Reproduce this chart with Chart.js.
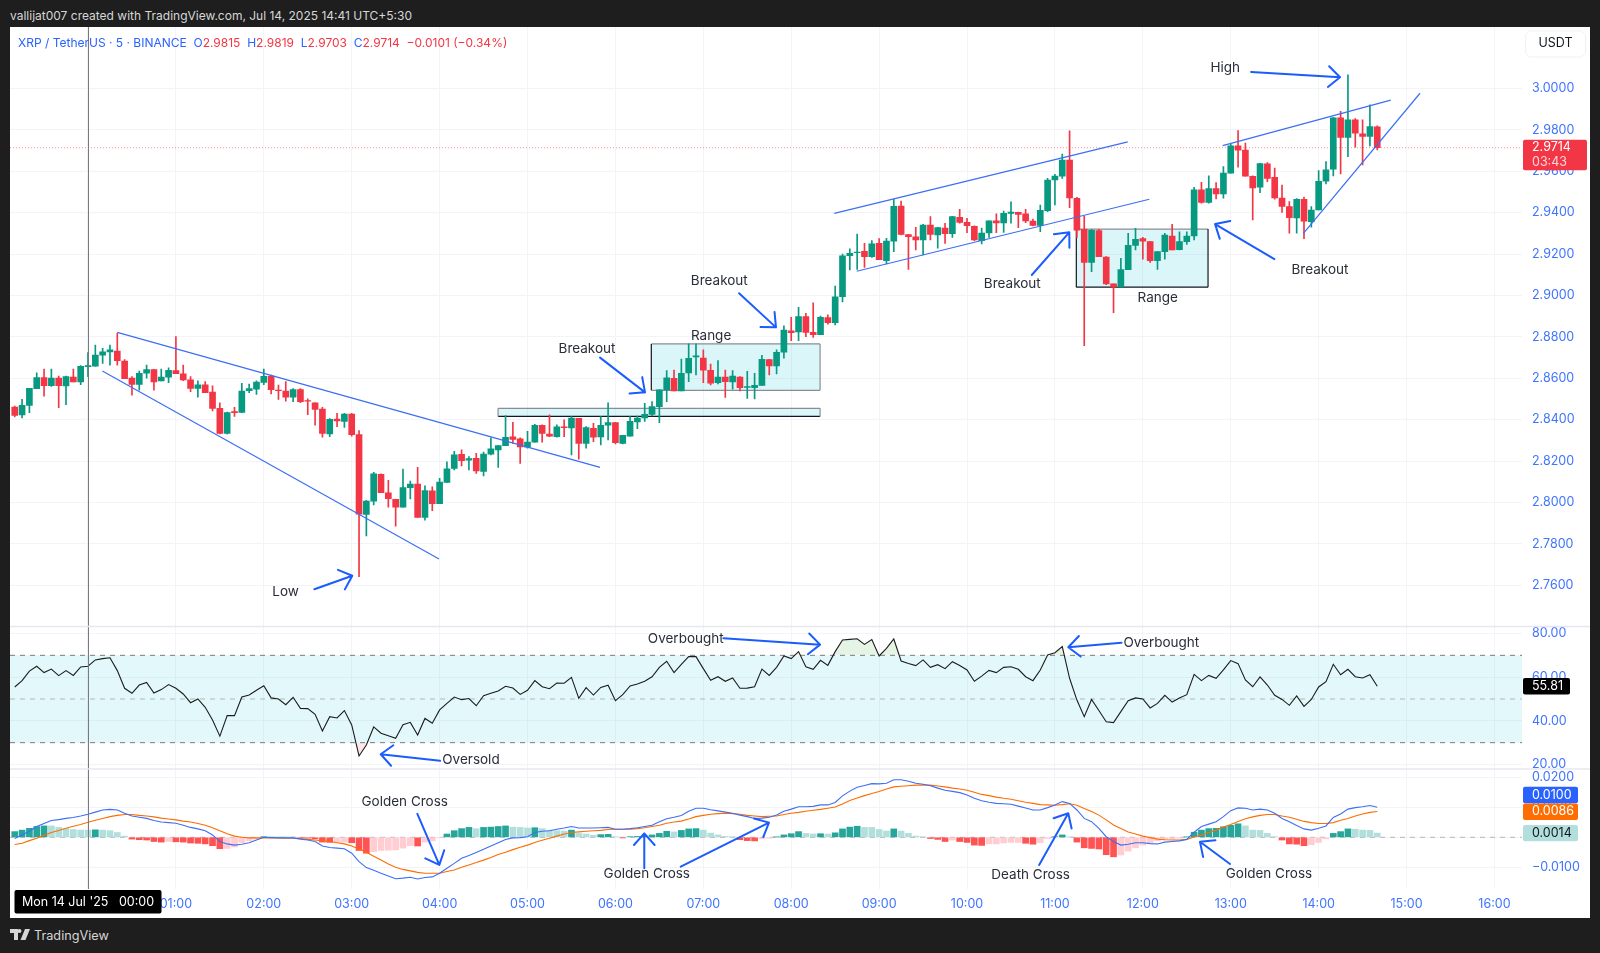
<!DOCTYPE html>
<html>
<head>
<meta charset="utf-8">
<title>XRP / TetherUS</title>
<script src="https://cdn.jsdelivr.net/npm/chart.js@4"></script>
<style>
  html, body { margin: 0; padding: 0; background: #1e1e1e; width: 1600px; height: 953px; overflow: hidden; font-family: Inter, "Liberation Sans", sans-serif; }
  #frame { position: absolute; left: 10px; top: 27px; width: 1580px; height: 891px; background: #fff; }
  #header { position: absolute; left: 10px; top: 8px; color: #d6d6d6; font-size: 12px; line-height: 15px; white-space: nowrap; }
  #legend { position: absolute; left: 18px; top: 35px; font-size: 12px; line-height: 16px; color: #2962ff; white-space: pre; }
  #legend b { font-weight: 400; color: #f23645; }
  #footer { position: absolute; left: 34px; top: 927px; color: #d6d6d6; font-size: 12.7px; line-height: 18px; }
  #logo { position: absolute; left: 10px; top: 929px; }
</style>
</head>
<body>
<div id="header">vallijat007 created with TradingView.com, Jul 14, 2025 14:41 UTC+5:30</div>
<div id="frame"><canvas id="chart" width="1580" height="891"></canvas></div>
<div id="legend">XRP / TetherUS · 5 · BINANCE  O<b>2.9815</b>  H<b>2.9819</b>  L<b>2.9703</b>  C<b>2.9714</b>  <b>−0.0101 (−0.34%)</b></div>
<svg id="logo" width="20" height="12" viewBox="0 0 20 12"><path fill="#d6d6d6" d="M0 0h8v11H4V4H0zM9.5 0a2 2 0 1 1 0 4 2 2 0 0 1 0-4zM15 0h5l-4.5 11H10.5z"/></svg>
<div id="footer">TradingView</div>
<script>
// candles, 5 minute bars, first one 50 minutes before midnight
var firstBar = -50;
var barStep = 5;

var opens = [
  2.8461,2.8423,2.8469,2.8550,2.8603,2.8564,2.8601,2.8563,2.8606,2.8583,
  2.8656,2.8659,2.8712,2.8728,2.8732,2.8683,2.8601,2.8571,2.8625,2.8642,
  2.8587,2.8606,2.8637,2.8622,2.8592,2.8551,2.8569,2.8534,2.8455,2.8334,
  2.8439,2.8435,2.8540,2.8548,2.8580,2.8611,2.8543,2.8538,2.8509,2.8546,
  2.8492,2.8482,2.8451,2.8331,2.8403,2.8392,2.8427,2.8328,2.7943,2.8007,
  2.8136,2.8047,2.8015,2.7977,2.8072,2.8089,2.7928,2.8056,2.7994,2.8097,
  2.8165,2.8233,2.8204,2.8213,2.8150,2.8233,2.8254,2.8275,2.8317,2.8307,
  2.8267,2.8292,2.8373,2.8331,2.8318,2.8365,2.8360,2.8407,2.8286,2.8358,
  2.8317,2.8373,2.8386,2.8286,2.8321,2.8389,2.8408,2.8426,2.8463,2.8544,
  2.8600,2.8539,2.8626,2.8703,2.8698,2.8639,2.8579,2.8606,2.8582,2.8606,
  2.8556,2.8555,2.8566,2.8690,2.8660,2.8726,2.8829,2.8824,2.8898,2.8822,
  2.8811,2.8893,2.8869,2.8994,2.9192,2.9207,2.9213,2.9188,2.9252,2.9168,
  2.9263,2.9432,2.9294,2.9283,2.9268,2.9340,2.9292,2.9326,2.9299,2.9378,
  2.9353,2.9334,2.9265,2.9302,2.9361,2.9350,2.9397,2.9402,2.9394,2.9360,
  2.9339,2.9410,2.9558,2.9577,2.9654,2.9469,2.9320,2.9160,2.9313,2.9186,
  2.9056,2.9041,2.9125,2.9242,2.9275,2.9260,2.9168,2.9212,2.9287,2.9221,
  2.9260,2.9288,2.9510,2.9449,2.9517,2.9491,2.9591,2.9723,2.9702,2.9576,
  2.9523,2.9636,2.9571,2.9470,2.9430,2.9375,2.9465,2.9357,2.9413,2.9552,
  2.9610,2.9858,2.9763,2.9848,2.9781,2.9768,2.9815
];
var highs = [
  2.8466,2.8498,2.8551,2.8627,2.8645,2.8645,2.8611,2.8611,2.8645,2.8661,
  2.8724,2.8761,2.8745,2.8761,2.8817,2.8691,2.8608,2.8635,2.8664,2.8643,
  2.8645,2.8650,2.8801,2.8664,2.8608,2.8588,2.8584,2.8563,2.8482,2.8437,
  2.8460,2.8576,2.8572,2.8588,2.8645,2.8616,2.8567,2.8584,2.8550,2.8550,
  2.8501,2.8482,2.8460,2.8405,2.8431,2.8431,2.8431,2.8347,2.8010,2.8146,
  2.8139,2.8107,2.8015,2.8162,2.8104,2.8170,2.8080,2.8076,2.8117,2.8197,
  2.8247,2.8254,2.8222,2.8237,2.8244,2.8313,2.8275,2.8420,2.8387,2.8312,
  2.8344,2.8378,2.8375,2.8423,2.8375,2.8399,2.8415,2.8407,2.8367,2.8383,
  2.8415,2.8482,2.8387,2.8325,2.8415,2.8418,2.8479,2.8487,2.8544,2.8637,
  2.8640,2.8693,2.8766,2.8766,2.8737,2.8669,2.8685,2.8640,2.8637,2.8608,
  2.8634,2.8624,2.8711,2.8692,2.8737,2.8853,2.8895,2.8943,2.8914,2.8965,
  2.8901,2.8906,2.9046,2.9200,2.9226,2.9297,2.9252,2.9265,2.9275,2.9276,
  2.9465,2.9456,2.9295,2.9329,2.9344,2.9381,2.9329,2.9349,2.9382,2.9416,
  2.9373,2.9336,2.9326,2.9361,2.9394,2.9408,2.9453,2.9403,2.9416,2.9369,
  2.9437,2.9566,2.9585,2.9683,2.9796,2.9474,2.9384,2.9320,2.9320,2.9188,
  2.9056,2.9180,2.9300,2.9324,2.9281,2.9262,2.9212,2.9300,2.9344,2.9308,
  2.9308,2.9523,2.9547,2.9578,2.9545,2.9623,2.9732,2.9797,2.9736,2.9578,
  2.9639,2.9642,2.9615,2.9533,2.9454,2.9468,2.9475,2.9430,2.9603,2.9647,
  2.9861,2.9890,3.0066,2.9855,2.9848,2.9921,2.9819
];
var lows = [
  2.8414,2.8408,2.8434,2.8550,2.8514,2.8561,2.8458,2.8472,2.8583,2.8569,
  2.8608,2.8659,2.8672,2.8664,2.8664,2.8598,2.8518,2.8543,2.8601,2.8543,
  2.8587,2.8579,2.8622,2.8588,2.8535,2.8509,2.8530,2.8442,2.8331,2.8331,
  2.8416,2.8434,2.8530,2.8522,2.8569,2.8524,2.8498,2.8489,2.8487,2.8482,
  2.8424,2.8374,2.8315,2.8318,2.8366,2.8363,2.8321,2.7642,2.7838,2.7988,
  2.8047,2.7977,2.7886,2.7977,2.8017,2.7928,2.7915,2.7960,2.7994,2.8097,
  2.8157,2.8177,2.8157,2.8141,2.8128,2.8230,2.8170,2.8275,2.8286,2.8189,
  2.8262,2.8292,2.8292,2.8318,2.8315,2.8318,2.8230,2.8209,2.8262,2.8294,
  2.8278,2.8302,2.8283,2.8283,2.8321,2.8357,2.8392,2.8418,2.8386,2.8487,
  2.8539,2.8539,2.8584,2.8616,2.8579,2.8568,2.8573,2.8508,2.8548,2.8539,
  2.8503,2.8500,2.8566,2.8616,2.8621,2.8697,2.8782,2.8782,2.8801,2.8798,
  2.8811,2.8861,2.8858,2.8969,2.9123,2.9126,2.9136,2.9184,2.9173,2.9152,
  2.9212,2.9292,2.9126,2.9220,2.9196,2.9268,2.9228,2.9252,2.9281,2.9349,
  2.9304,2.9265,2.9249,2.9281,2.9304,2.9305,2.9349,2.9328,2.9352,2.9336,
  2.9308,2.9405,2.9437,2.9566,2.9424,2.9281,2.8758,2.9115,2.9188,2.9052,
  2.8917,2.9041,2.9125,2.9220,2.9176,2.9160,2.9126,2.9176,2.9220,2.9220,
  2.9247,2.9269,2.9446,2.9446,2.9467,2.9470,2.9591,2.9620,2.9576,2.9365,
  2.9497,2.9550,2.9465,2.9401,2.9301,2.9301,2.9275,2.9330,2.9413,2.9539,
  2.9578,2.9587,2.9671,2.9716,2.9631,2.9723,2.9703
];
var closes = [
  2.8421,2.8469,2.8551,2.8603,2.8564,2.8601,2.8564,2.8608,2.8583,2.8658,
  2.8661,2.8712,2.8728,2.8737,2.8685,2.8598,2.8571,2.8624,2.8642,2.8583,
  2.8606,2.8638,2.8622,2.8592,2.8551,2.8569,2.8530,2.8455,2.8334,2.8434,
  2.8434,2.8538,2.8550,2.8582,2.8609,2.8545,2.8540,2.8509,2.8546,2.8487,
  2.8489,2.8450,2.8334,2.8402,2.8394,2.8427,2.8328,2.7944,2.8007,2.8138,
  2.8047,2.8018,2.7978,2.8072,2.8089,2.7928,2.8057,2.7994,2.8099,2.8163,
  2.8230,2.8202,2.8212,2.8152,2.8234,2.8259,2.8275,2.8315,2.8305,2.8268,
  2.8292,2.8373,2.8334,2.8321,2.8365,2.8362,2.8408,2.8286,2.8362,2.8315,
  2.8373,2.8386,2.8289,2.8325,2.8392,2.8408,2.8426,2.8463,2.8544,2.8602,
  2.8539,2.8624,2.8697,2.8708,2.8639,2.8576,2.8606,2.8584,2.8611,2.8555,
  2.8560,2.8566,2.8692,2.8660,2.8726,2.8833,2.8820,2.8898,2.8822,2.8811,
  2.8895,2.8869,2.8994,2.9192,2.9204,2.9210,2.9188,2.9249,2.9173,2.9263,
  2.9431,2.9295,2.9284,2.9268,2.9340,2.9295,2.9328,2.9299,2.9381,2.9353,
  2.9337,2.9268,2.9302,2.9361,2.9350,2.9397,2.9403,2.9392,2.9360,2.9339,
  2.9411,2.9558,2.9577,2.9654,2.9471,2.9316,2.9160,2.9315,2.9188,2.9056,
  2.9041,2.9125,2.9242,2.9271,2.9262,2.9168,2.9212,2.9292,2.9220,2.9260,
  2.9287,2.9510,2.9449,2.9517,2.9491,2.9591,2.9723,2.9702,2.9576,2.9520,
  2.9637,2.9566,2.9471,2.9430,2.9376,2.9465,2.9359,2.9413,2.9552,2.9607,
  2.9858,2.9763,2.9848,2.9784,2.9769,2.9816,2.9714
];

var rsiValues = [
  55.5,58.4,62.8,65.0,62.1,63.7,60.7,63.0,60.8,64.7,
  65.0,67.9,68.5,68.9,63.0,54.9,52.6,56.4,57.6,52.7,
  54.3,56.6,54.9,52.3,48.3,50.0,46.2,40.4,33.0,42.4,
  42.4,50.9,51.8,54.0,56.1,50.5,50.0,47.4,50.8,45.7,
  45.6,43.0,35.3,41.9,41.3,44.7,38.1,23.9,28.9,37.2,
  34.3,33.2,32.0,38.2,39.3,33.5,41.1,38.9,45.0,48.0,
  50.9,49.7,50.2,46.9,51.5,52.6,53.7,55.8,55.0,52.1,
  54.0,58.4,55.6,54.7,57.3,57.2,59.9,50.3,55.2,51.8,
  55.3,56.3,49.2,52.0,56.0,56.9,58.1,60.2,64.5,67.3,
  62.1,65.9,69.4,69.4,63.9,58.6,60.2,58.1,59.6,54.9,
  55.0,55.6,63.7,60.8,64.5,69.7,68.5,71.7,64.8,63.6,
  67.7,65.4,71.7,77.0,77.3,77.6,75.0,77.2,69.7,73.2,
  77.5,67.4,66.3,65.3,67.9,64.5,65.7,63.9,67.1,65.3,
  63.3,58.1,60.5,63.1,62.1,64.5,64.8,63.6,60.2,58.4,
  63.3,70.2,71.2,74.0,59.5,49.5,41.9,49.8,44.7,39.6,
  39.2,44.2,49.2,50.5,50.0,45.9,48.0,51.7,48.6,50.5,
  52.0,61.3,58.4,60.8,59.5,63.3,67.6,66.2,58.7,55.6,
  60.1,56.4,51.7,49.8,47.1,51.4,46.6,49.8,55.5,57.9,
  65.9,61.1,63.6,60.2,59.6,61.1,55.81
];

var macdLine = [
  -0.0004,0.0008,0.0020,0.0036,0.0046,0.0056,0.0059,0.0063,0.0066,0.0071,
  0.0077,0.0084,0.0091,0.0093,0.0091,0.0080,0.0071,0.0067,0.0063,0.0056,
  0.0051,0.0049,0.0047,0.0040,0.0033,0.0028,0.0022,0.0008,-0.0014,-0.0022,
  -0.0026,-0.0023,-0.0018,-0.0009,0,-0.0001,-0.0002,-0.0002,-0.0002,-0.0006,
  -0.0009,-0.0014,-0.0029,-0.0034,-0.0036,-0.0038,-0.0053,-0.0081,-0.0101,-0.0110,
  -0.0120,-0.0129,-0.0138,-0.0136,-0.0133,-0.0139,-0.0134,-0.0132,-0.0120,-0.0103,
  -0.0087,-0.0070,-0.0061,-0.0051,-0.0040,-0.0029,-0.0018,-0.0007,-0.0002,-0.0001,
  0.0002,0.0016,0.0020,0.0022,0.0027,0.0031,0.0036,0.0031,0.0031,0.0031,
  0.0032,0.0033,0.0027,0.0027,0.0029,0.0032,0.0036,0.0040,0.0052,0.0062,
  0.0067,0.0073,0.0087,0.0097,0.0097,0.0092,0.0088,0.0084,0.0080,0.0074,
  0.0069,0.0063,0.0064,0.0067,0.0074,0.0087,0.0094,0.0102,0.0102,0.0103,
  0.0108,0.0108,0.0116,0.0138,0.0154,0.0167,0.0173,0.0179,0.0178,0.0180,
  0.0192,0.0192,0.0187,0.0180,0.0177,0.0172,0.0164,0.0157,0.0153,0.0149,
  0.0141,0.0130,0.0122,0.0117,0.0113,0.0112,0.0110,0.0104,0.0098,0.0091,
  0.0091,0.0099,0.0108,0.0119,0.0113,0.0091,0.0063,0.0052,0.0030,0.0002,
  -0.0014,-0.0026,-0.0023,-0.0018,-0.0018,-0.0021,-0.0022,-0.0016,-0.0014,-0.0012,
  -0.0007,0.0017,0.0036,0.0044,0.0052,0.0069,0.0089,0.0098,0.0097,0.0091,
  0.0094,0.0091,0.0080,0.0063,0.0052,0.0039,0.0028,0.0024,0.0030,0.0038,
  0.0066,0.0078,0.0094,0.0099,0.0102,0.0106,0.0100
];
var signalLine = [
  -0.0024,-0.0020,-0.0011,-0.0003,0.0007,0.0016,0.0023,0.0030,0.0037,0.0043,
  0.0050,0.0057,0.0063,0.0069,0.0073,0.0076,0.0076,0.0073,0.0071,0.0068,
  0.0064,0.0061,0.0058,0.0054,0.0051,0.0046,0.0040,0.0032,0.0022,0.0012,
  0.0004,0,-0.0002,-0.0002,-0.0002,-0.0002,-0.0002,-0.0003,-0.0003,-0.0004,
  -0.0007,-0.0009,-0.0012,-0.0014,-0.0018,-0.0022,-0.0029,-0.0039,-0.0050,-0.0063,
  -0.0076,-0.0089,-0.0100,-0.0107,-0.0112,-0.0117,-0.0120,-0.0120,-0.0120,-0.0114,
  -0.0109,-0.0100,-0.0092,-0.0084,-0.0076,-0.0067,-0.0057,-0.0050,-0.0041,-0.0033,
  -0.0026,-0.0017,-0.0010,-0.0003,0.0004,0.0011,0.0016,0.0018,0.0020,0.0022,
  0.0023,0.0026,0.0027,0.0027,0.0027,0.0029,0.0032,0.0036,0.0040,0.0047,
  0.0051,0.0054,0.0061,0.0069,0.0073,0.0077,0.0079,0.0080,0.0079,0.0077,
  0.0073,0.0071,0.0069,0.0070,0.0071,0.0076,0.0080,0.0083,0.0087,0.0090,
  0.0093,0.0097,0.0101,0.0111,0.0123,0.0131,0.0139,0.0146,0.0153,0.0161,
  0.0168,0.0170,0.0172,0.0174,0.0174,0.0174,0.0171,0.0168,0.0164,0.0161,
  0.0157,0.0150,0.0143,0.0139,0.0134,0.0130,0.0127,0.0122,0.0117,0.0113,
  0.0109,0.0108,0.0107,0.0109,0.0112,0.0107,0.0096,0.0086,0.0074,0.0058,
  0.0041,0.0029,0.0018,0.0011,0.0004,-0.0001,-0.0006,-0.0008,-0.0009,-0.0009,
  -0.0007,0.0001,0.0008,0.0016,0.0024,0.0034,0.0043,0.0053,0.0062,0.0068,
  0.0073,0.0076,0.0076,0.0071,0.0067,0.0060,0.0053,0.0049,0.0046,0.0046,
  0.0049,0.0057,0.0063,0.0071,0.0078,0.0083,0.0086
];
var histogram = [
  0.0019,0.0024,0.0030,0.0036,0.0038,0.0038,0.0033,0.0029,0.0026,0.0024,
  0.0024,0.0025,0.0024,0.0022,0.0016,0.0004,-0.0006,-0.0008,-0.0009,-0.0014,
  -0.0016,-0.0014,-0.0015,-0.0016,-0.0019,-0.0020,-0.0022,-0.0028,-0.0038,-0.0037,
  -0.0032,-0.0018,-0.0012,-0.0006,0.0002,0.0002,0.0001,0.0001,0.0001,-0.0002,
  -0.0003,-0.0005,-0.0016,-0.0017,-0.0016,-0.0016,-0.0018,-0.0044,-0.0053,-0.0048,
  -0.0044,-0.0043,-0.0042,-0.0036,-0.0028,-0.0029,-0.0016,-0.0012,-0.0001,0.0011,
  0.0022,0.0029,0.0033,0.0029,0.0033,0.0034,0.0036,0.0038,0.0034,0.0033,
  0.0031,0.0032,0.0029,0.0024,0.0022,0.0021,0.0024,0.0013,0.0011,0.0007,
  0.0009,0.0010,0.0002,-0.0002,0.0002,0.0003,0.0004,0.0008,0.0013,0.0020,
  0.0018,0.0023,0.0028,0.0029,0.0024,0.0014,0.0008,0.0003,0.0001,-0.0008,
  -0.0011,-0.0012,-0.0005,-0.0003,0.0001,0.0008,0.0012,0.0019,0.0013,0.0011,
  0.0012,0.0011,0.0015,0.0028,0.0034,0.0037,0.0033,0.0033,0.0026,0.0021,
  0.0028,0.0021,0.0013,0.0004,0.0001,-0.0004,-0.0007,-0.0014,-0.0009,-0.0014,
  -0.0017,-0.0026,-0.0027,-0.0022,-0.0022,-0.0019,-0.0017,-0.0017,-0.0020,-0.0023,
  -0.0018,-0.0004,0.0002,0.0008,0.0001,-0.0016,-0.0035,-0.0037,-0.0039,-0.0058,
  -0.0065,-0.0059,-0.0046,-0.0035,-0.0026,-0.0020,-0.0012,-0.0007,-0.0006,-0.0003,
  0.0001,0.0017,0.0024,0.0029,0.0030,0.0035,0.0040,0.0045,0.0038,0.0024,
  0.0023,0.0013,0.0002,-0.0009,-0.0022,-0.0023,-0.0028,-0.0025,-0.0017,-0.0005,
  0.0013,0.0019,0.0028,0.0027,0.0024,0.0023,0.0014
];

// axis ticks
var priceTicks = [2.76,2.78,2.80,2.82,2.84,2.86,2.88,2.90,2.92,2.94,2.96,2.98,3.00];
var rsiTicks = [20,40,60,80];
var macdTicks = [0.02,0.01,0,-0.01];
var timeTickMinutes = [0,60,120,180,240,300,360,420,480,540,600,660,720,780,840,900,960];
var timeTickLabels = ['00:00','01:00','02:00','03:00','04:00','05:00','06:00','07:00','08:00','09:00','10:00','11:00','12:00','13:00','14:00','15:00','16:00'];

// drawings, in minutes and axis values
var trendLines = [
  [20.0,2.8822,349.5,2.8170],
  [9.8,2.8635,239.6,2.7727],
  [509.4,2.9397,709.7,2.9742],
  [524.7,2.9117,724.4,2.9465],
  [774.5,2.9724,889.2,2.9944],
  [829.6,2.9300,909.2,2.9977]
];
var rangeBoxes = [
  {from:279.9,to:499.7,top:2.8455,bottom:2.8416,black:['bottom']},
  {from:384.5,to:499.7,top:2.8766,bottom:2.8542,black:['left']},
  {from:674.6,to:764.5,top:2.9321,bottom:2.9040,black:['left','bottom','right']}
];
var arrows = [
  {axis:'price',from:[154.5,2.7581],to:[180.4,2.7646]},
  {axis:'price',from:[349.5,2.8700],to:[380.2,2.8532]},
  {axis:'price',from:[444.4,2.9011],to:[469.6,2.8846]},
  {axis:'price',from:[644.2,2.9099],to:[669.8,2.9305]},
  {axis:'price',from:[809.8,2.9176],to:[769.3,2.9345]},
  {axis:'price',from:[793.9,3.0080],to:[854.6,3.0054]},
  {axis:'rsi',from:[433.7,77.8],to:[499.7,74.9]},
  {axis:'rsi',from:[705.5,75.8],to:[669.1,73.7]},
  {axis:'rsi',from:[240.3,21.7],to:[199.8,24.7]},
  {axis:'macd',from:[224.8,0.0078],to:[239.8,-0.0092]},
  {axis:'macd',from:[379.7,-0.0103],to:[379.7,0.0013]},
  {axis:'macd',from:[404.6,-0.0098],to:[464.8,0.0049]},
  {axis:'macd',from:[649.2,-0.0092],to:[669.1,0.0080]},
  {axis:'macd',from:[779.5,-0.0089],to:[759.0,-0.0015]}
];
var noteLabels = [
  {axis:'price',text:'Low',at:[134.9,2.7569]},
  {axis:'price',text:'Breakout',at:[340.6,2.8742]},
  {axis:'price',text:'Breakout',at:[430.9,2.9070]},
  {axis:'price',text:'Range',at:[425.3,2.8804]},
  {axis:'price',text:'Breakout',at:[630.9,2.9056]},
  {axis:'price',text:'Range',at:[730.2,2.8989]},
  {axis:'price',text:'Breakout',at:[840.9,2.9123]},
  {axis:'price',text:'High',at:[776.3,3.0099]},
  {axis:'rsi',text:'Overbought',at:[408.0,77.3]},
  {axis:'rsi',text:'Overbought',at:[732.6,75.5]},
  {axis:'rsi',text:'Oversold',at:[261.4,22.1]},
  {axis:'macd',text:'Golden Cross',at:[216.2,0.0119]},
  {axis:'macd',text:'Golden Cross',at:[381.4,-0.0122]},
  {axis:'macd',text:'Death Cross',at:[643.4,-0.0124]},
  {axis:'macd',text:'Golden Cross',at:[806.1,-0.0122]}
];

var lastPrice = 2.9714;
var lastRsi = 55.81;
var lastMacd = 0.0100;
var lastSignal = 0.0086;
var lastHist = 0.0014;

var GREEN = '#089981', RED = '#f23645';
var TICK_BLUE = '#3f74ff';
var FONT = 'Inter, "Liberation Sans", sans-serif';

function barTime(i) { return firstBar + i * barStep; }

var wickData = [], bodyData = [], candleColors = [];
for (var i = 0; i < opens.length; i++) {
  wickData.push({x: barTime(i), y: [lows[i], highs[i]]});
  bodyData.push({x: barTime(i), y: [opens[i], closes[i]]});
  candleColors.push(closes[i] >= opens[i] ? GREEN : RED);
}

var histData = [], histColors = [];
for (var i = 0; i < histogram.length; i++) {
  var h = histogram[i], p = i ? histogram[i - 1] : 0;
  histData.push({x: barTime(i), y: h});
  if (h >= 0) histColors.push(h > p ? '#26a69a' : '#b2dfdb');
  else histColors.push(h < p ? '#ff5252' : '#ffcdd2');
}

function line(values) {
  return values.map(function(v, i) { return {x: barTime(i), y: v}; });
}

// everything TradingView draws around the series
var drawingsPlugin = {
  id: 'drawings',
  beforeDatasetsDraw: function(chart) {
    var c = chart.ctx, x = chart.scales.x, price = chart.scales.price, rsi = chart.scales.rsi;
    c.save();
    // rsi band
    c.fillStyle = 'rgba(0,188,212,0.11)';
    c.fillRect(x.left, rsi.getPixelForValue(70), x.right - x.left, rsi.getPixelForValue(30) - rsi.getPixelForValue(70));
    // range boxes
    rangeBoxes.forEach(function(b) {
      var l = x.getPixelForValue(b.from), r = x.getPixelForValue(b.to);
      var t = price.getPixelForValue(b.top), m = price.getPixelForValue(b.bottom);
      c.fillStyle = 'rgba(0,188,212,0.14)';
      c.fillRect(l, t, r - l, m - t);
      var sides = {top:[l,t,r,t], bottom:[l,m,r,m], left:[l,t,l,m], right:[r,t,r,m]};
      Object.keys(sides).forEach(function(k) {
        var s = sides[k];
        c.strokeStyle = b.black.indexOf(k) >= 0 ? '#131722' : '#8a8d96';
        c.lineWidth = 1.2;
        c.beginPath(); c.moveTo(s[0], s[1]); c.lineTo(s[2], s[3]); c.stroke();
      });
    });
    // rsi levels and macd zero
    [[70,'#787b86'],[50,'#b4b6bd'],[30,'#787b86']].forEach(function(l) {
      dashed(c, x.left, x.right, rsi.getPixelForValue(l[0]), l[1], [5,5]);
    });
    dashed(c, x.left, x.right, chart.scales.macd.getPixelForValue(0), '#b4b6bd', [5,5]);
    c.restore();
  },
  afterDatasetsDraw: function(chart) {
    var c = chart.ctx, x = chart.scales.x, s = chart.scales;
    c.save();
    // last price line
    dashed(c, x.left, x.right, s.price.getPixelForValue(lastPrice), 'rgba(242,54,69,0.55)', [1,2]);
    // crosshair
    var cx = x.getPixelForValue(0) + 0.5;
    c.strokeStyle = '#777'; c.lineWidth = 1; c.setLineDash([]);
    c.beginPath(); c.moveTo(cx, chart.chartArea.top); c.lineTo(cx, chart.chartArea.bottom); c.stroke();
    // trend lines
    c.strokeStyle = '#3d6ff5'; c.lineWidth = 1.2;
    trendLines.forEach(function(t) {
      c.beginPath();
      c.moveTo(x.getPixelForValue(t[0]), s.price.getPixelForValue(t[1]));
      c.lineTo(x.getPixelForValue(t[2]), s.price.getPixelForValue(t[3]));
      c.stroke();
    });
    // arrows
    c.strokeStyle = '#1b5cff'; c.lineWidth = 2; c.lineJoin = 'round'; c.lineCap = 'round';
    arrows.forEach(function(a) {
      var sc = s[a.axis];
      var x0 = x.getPixelForValue(a.from[0]), y0 = sc.getPixelForValue(a.from[1]);
      var x1 = x.getPixelForValue(a.to[0]), y1 = sc.getPixelForValue(a.to[1]);
      var ang = Math.atan2(y0 - y1, x0 - x1), d = 0.73, len = 15.5;
      c.beginPath();
      c.moveTo(x0, y0); c.lineTo(x1, y1);
      c.moveTo(x1 + Math.cos(ang + d) * len, y1 + Math.sin(ang + d) * len);
      c.lineTo(x1, y1);
      c.lineTo(x1 + Math.cos(ang - d) * len, y1 + Math.sin(ang - d) * len);
      c.stroke();
    });
    c.lineCap = 'butt';
    // notes
    c.fillStyle = '#2a2e39'; c.font = '13.5px ' + FONT; c.textAlign = 'center'; c.textBaseline = 'middle';
    noteLabels.forEach(function(n) {
      c.fillText(n.text, x.getPixelForValue(n.at[0]), s[n.axis].getPixelForValue(n.at[1]));
    });
    // pane separators
    c.strokeStyle = '#e7e8ef'; c.lineWidth = 1.5;
    [s.price.bottom, s.rsi.bottom].forEach(function(y) {
      c.beginPath(); c.moveTo(0, y); c.lineTo(chart.width, y); c.stroke();
    });
    c.restore();
  },
  afterDraw: function(chart) {
    var c = chart.ctx, x = chart.scales.x, s = chart.scales;
    c.save();
    c.textBaseline = 'middle'; c.textAlign = 'left';
    // price tag with countdown
    var py = s.price.getPixelForValue(lastPrice);
    tagBox(c, x.right + 1, py - 8, 64, 30.5, RED);
    c.fillStyle = '#fff'; c.font = '12.5px ' + FONT;
    c.fillText(lastPrice.toFixed(4), x.right + 10, py);
    c.fillStyle = 'rgba(255,255,255,0.8)';
    c.fillText('03:43', x.right + 10, py + 14.5);
    // usdt
    c.strokeStyle = '#f0f1f5'; c.lineWidth = 1;
    c.beginPath(); c.roundRect(x.right + 3.5, 4, 60, 26, 6); c.stroke();
    c.fillStyle = '#131722'; c.font = '12.5px ' + FONT; c.textAlign = 'center';
    c.fillText('USDT', x.right + 33.5, 16.5);
    c.textAlign = 'left';
    // indicator tags
    tagRow(c, x, s.rsi.getPixelForValue(lastRsi), lastRsi.toFixed(2), '#000', '#fff', 47);
    tagRow(c, x, s.macd.getPixelForValue(lastMacd) - 12.3, lastMacd.toFixed(4), '#2962ff', '#fff', 55);
    tagRow(c, x, s.macd.getPixelForValue(lastSignal) + 0.2, lastSignal.toFixed(4), '#ff6d00', '#fff', 55);
    tagRow(c, x, s.macd.getPixelForValue(lastHist), lastHist.toFixed(4), '#b2dfdb', '#131722', 55);
    // date box over the time axis
    var cx = x.getPixelForValue(0);
    tagBox(c, cx - 73.5, x.top + 1, 147, 23.5, '#000');
    c.fillStyle = '#fff'; c.textAlign = 'center'; c.font = '12.5px ' + FONT;
    c.fillText("Mon 14 Jul '25   00:00", cx, x.top + 13);
    c.restore();
  }
};

function dashed(c, x0, x1, y, color, dash) {
  c.save();
  c.strokeStyle = color; c.lineWidth = 1; c.setLineDash(dash);
  c.beginPath(); c.moveTo(x0, y); c.lineTo(x1, y); c.stroke();
  c.restore();
}
function tagBox(c, x, y, w, h, color) {
  c.fillStyle = color;
  c.beginPath(); c.roundRect(x, y, w, h, 2); c.fill();
}
function tagRow(c, x, y, text, bg, fg, w) {
  tagBox(c, x.right + 1, y - 8.2, w, 16.4, bg);
  c.fillStyle = fg; c.font = '12.5px ' + FONT;
  c.fillText(text, x.right + 10, y);
}

// tick labels must not push the chart area in
function noPadding(scale) {
  scale.paddingTop = 0; scale.paddingBottom = 0; scale.paddingLeft = 0; scale.paddingRight = 0;
}

function yAxis(min, max, ticks, digits, weight) {
  return {
    type: 'linear', position: 'right', stack: 'panes', stackWeight: weight,
    min: min, max: max,
    afterBuildTicks: function(scale) { scale.ticks = ticks.map(function(v) { return {value: v}; }); },
    afterFit: function(scale) { scale.width = 68; noPadding(scale); },
    grid: {color: '#f3f4f7', drawTicks: false},
    border: {display: false},
    ticks: {
      color: TICK_BLUE, padding: 10, autoSkip: false, font: {family: FONT, size: 12.5},
      callback: function(v) { return (v < 0 ? '−' : '') + Math.abs(v).toFixed(digits); }
    }
  };
}

new Chart(document.getElementById('chart'), {
  type: 'bar',
  data: {
    datasets: [
      {type: 'line', label: 'RSI', yAxisID: 'rsi', data: line(rsiValues), borderColor: '#1c1c1c', borderWidth: 1.1, pointRadius: 0, tension: 0, order: 1,
       fill: {target: {value: 70}, above: 'rgba(76,175,80,0.14)', below: 'rgba(0,0,0,0)'}},
      {type: 'line', label: 'RSI low', yAxisID: 'rsi', data: line(rsiValues), borderColor: 'rgba(0,0,0,0)', borderWidth: 0, pointRadius: 0, order: 2,
       fill: {target: {value: 30}, above: 'rgba(0,0,0,0)', below: 'rgba(242,54,69,0.12)'}},
      {type: 'line', label: 'MACD', yAxisID: 'macd', data: line(macdLine), borderColor: '#3d6ff5', borderWidth: 1.1, pointRadius: 0, tension: 0, order: 1},
      {type: 'line', label: 'Signal', yAxisID: 'macd', data: line(signalLine), borderColor: '#ff6d00', borderWidth: 1.1, pointRadius: 0, tension: 0, order: 1},
      {label: 'Histogram', yAxisID: 'macd', data: histData, backgroundColor: histColors, barThickness: 6, grouped: false, order: 3},
      {label: 'Body', yAxisID: 'price', data: bodyData, backgroundColor: candleColors, barThickness: 6, grouped: false, order: 4},
      {label: 'Wick', yAxisID: 'price', data: wickData, backgroundColor: candleColors, barThickness: 1, grouped: false, order: 5}
    ]
  },
  options: {
    responsive: false,
    animation: false,
    devicePixelRatio: 1,
    layout: {padding: 0},
    plugins: {legend: {display: false}, tooltip: {enabled: false}},
    scales: {
      x: {
        type: 'linear', offset: false, min: -53.24, max: 978.8,
        afterBuildTicks: function(scale) { scale.ticks = timeTickMinutes.map(function(v) { return {value: v}; }); },
        afterFit: function(scale) { scale.height = 29; noPadding(scale); },
        grid: {color: '#f3f4f7', offset: false, drawTicks: false},
        border: {display: false},
        ticks: {
          color: TICK_BLUE, padding: 8, autoSkip: false, maxRotation: 0, font: {family: FONT, size: 12.5},
          callback: function(v) { return timeTickLabels[timeTickMinutes.indexOf(v)]; }
        }
      },
      price: yAxis(2.7401, 3.0297, priceTicks, 4, 599.5),
      rsi: yAxis(17.93, 83.21, rsiTicks, 2, 142.5),
      macd: yAxis(-0.01723, 0.02277, macdTicks, 4, 120)
    }
  },
  plugins: [drawingsPlugin]
});
</script>
</body>
</html>
